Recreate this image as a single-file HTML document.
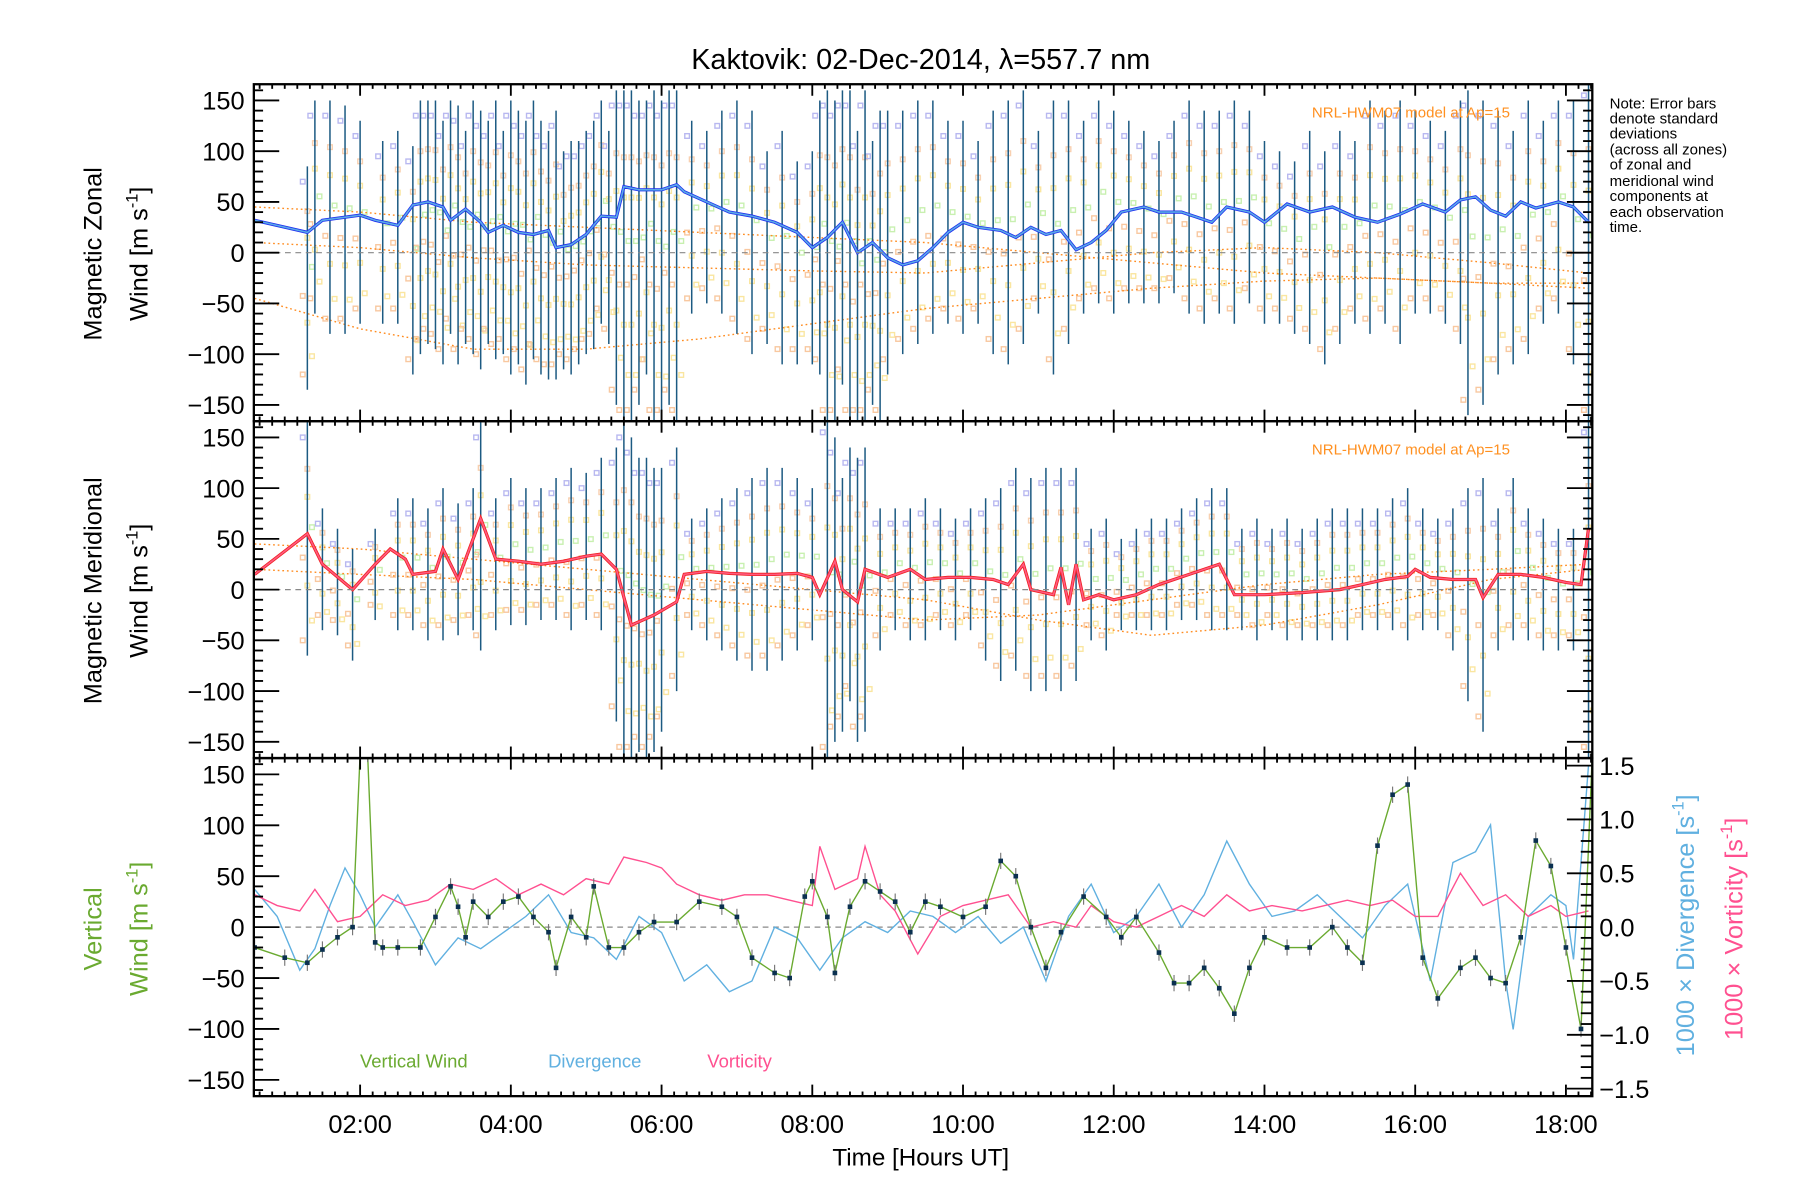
<!DOCTYPE html>
<html><head><meta charset="utf-8"><style>
html,body{margin:0;padding:0;background:#fff;}
svg{display:block;font-family:"Liberation Sans",sans-serif;}
</style></head><body>
<svg id="chart" width="1800" height="1200" viewBox="0 0 1560 1040" preserveAspectRatio="none" xmlns="http://www.w3.org/2000/svg">
<text x="798" y="60" font-size="25" text-anchor="middle">Kaktovik: 02-Dec-2014, λ=557.7 nm</text>
<g id="layer"></g>
<text x="798" y="1010" font-size="21" text-anchor="middle">Time [Hours UT]</text>
<g font-size="13">
<text x="1395" y="94">Note: Error bars</text><text x="1395" y="107">denote standard</text><text x="1395" y="120">deviations</text><text x="1395" y="134">(across all zones)</text><text x="1395" y="147">of zonal and</text><text x="1395" y="161">meridional wind</text><text x="1395" y="174">components at</text><text x="1395" y="188">each observation</text><text x="1395" y="201">time.</text>
</g>
<text transform="translate(88,220) rotate(-90)" font-size="22" text-anchor="middle">Magnetic Zonal</text>
<text transform="translate(128,220) rotate(-90)" font-size="22" text-anchor="middle">Wind [m s<tspan font-size="14" dy="-9">-1</tspan><tspan dy="9">]</tspan></text>
<text transform="translate(88,512) rotate(-90)" font-size="22" text-anchor="middle">Magnetic Meridional</text>
<text transform="translate(128,512) rotate(-90)" font-size="22" text-anchor="middle">Wind [m s<tspan font-size="14" dy="-9">-1</tspan><tspan dy="9">]</tspan></text>
<text transform="translate(88,805) rotate(-90)" font-size="22" text-anchor="middle" fill="#6aaa30">Vertical</text>
<text transform="translate(128,805) rotate(-90)" font-size="22" text-anchor="middle" fill="#6aaa30">Wind [m s<tspan font-size="14" dy="-9">-1</tspan><tspan dy="9">]</tspan></text>
<text transform="translate(1468,802) rotate(-90)" font-size="22" text-anchor="middle" fill="#60b0e0">1000 × Divergence [s<tspan font-size="14" dy="-9">-1</tspan><tspan dy="9">]</tspan></text>
<text transform="translate(1510,805) rotate(-90)" font-size="22" text-anchor="middle" fill="#ff5090">1000 × Vorticity [s<tspan font-size="14" dy="-9">-1</tspan><tspan dy="9">]</tspan></text>
<text x="312" y="925" font-size="16" fill="#6aaa30">Vertical Wind</text>
<text x="475" y="925" font-size="16" fill="#60b0e0">Divergence</text>
<text x="613" y="925" font-size="16" fill="#ff5090">Vorticity</text>
<text x="1137" y="102" font-size="13" fill="#ff9020">NRL-HWM07 model at Ap=15</text>
<text x="1137" y="394" font-size="13" fill="#ff9020">NRL-HWM07 model at Ap=15</text>
</svg>
<script>
// ---------- data ----------
const zonalT=[0.6,1.3,1.5,2.0,2.2,2.5,2.7,2.9,3.1,3.2,3.4,3.6,3.7,3.9,4.1,4.3,4.5,4.6,4.8,5.0,5.2,5.4,5.5,5.7,6.0,6.2,6.3,6.6,6.9,7.2,7.5,7.8,8.0,8.2,8.4,8.6,8.8,9.0,9.2,9.4,9.6,9.8,10.0,10.2,10.5,10.7,10.9,11.1,11.3,11.5,11.7,11.9,12.1,12.4,12.6,12.9,13.1,13.3,13.5,13.8,14.0,14.3,14.6,14.9,15.2,15.5,15.8,16.1,16.4,16.6,16.8,17.0,17.2,17.4,17.6,17.9,18.1,18.3];
const zonalV=[32,20,32,37,32,27,47,50,45,32,43,30,20,27,20,18,22,5,8,18,36,35,65,62,62,67,60,50,40,36,30,20,5,15,30,0,10,-5,-12,-8,5,20,30,25,22,15,25,18,22,3,10,22,40,45,40,40,35,30,45,40,30,48,40,45,35,30,38,48,40,52,55,42,36,50,44,50,45,30];
const meridT=[0.6,1.3,1.5,1.9,2.2,2.4,2.6,2.7,3.0,3.1,3.3,3.4,3.6,3.8,4.1,4.4,4.7,5.0,5.2,5.4,5.6,5.9,6.2,6.3,6.6,6.9,7.2,7.5,7.8,8.0,8.1,8.3,8.4,8.6,8.7,9.0,9.3,9.5,9.8,10.1,10.4,10.6,10.8,10.9,11.2,11.3,11.4,11.5,11.6,11.8,12.0,12.3,12.6,13.0,13.4,13.6,14.0,14.5,15.0,15.3,15.6,15.9,16.0,16.2,16.5,16.8,16.9,17.1,17.4,17.7,18.0,18.2,18.3];
const meridV=[15,55,25,0,25,40,30,15,18,40,10,30,70,30,28,25,28,33,35,20,-35,-25,-12,15,18,16,15,15,16,12,-5,28,0,-12,20,12,20,10,12,12,10,5,25,0,-5,22,-15,25,-10,-5,-10,-5,5,15,25,-5,-5,-3,0,5,10,13,20,12,10,10,-8,15,15,12,7,5,60];
const zonalBarT=[1.3,1.4,1.6,1.8,2.0,2.3,2.5,2.7,2.8,2.9,3.0,3.1,3.2,3.3,3.4,3.5,3.6,3.7,3.8,3.9,4.0,4.1,4.2,4.3,4.4,4.5,4.6,4.7,4.8,4.9,5.0,5.1,5.2,5.3,5.4,5.5,5.6,5.7,5.8,5.9,6.0,6.1,6.2,6.4,6.6,6.8,7.0,7.2,7.4,7.6,7.8,8.0,8.1,8.2,8.3,8.4,8.5,8.6,8.7,8.8,8.9,9.0,9.2,9.4,9.6,9.8,10.0,10.2,10.4,10.6,10.8,11.0,11.2,11.4,11.6,11.8,12.0,12.2,12.4,12.6,12.8,13.0,13.2,13.4,13.6,13.8,14.0,14.2,14.4,14.6,14.8,15.0,15.2,15.4,15.6,15.8,16.0,16.2,16.4,16.6,16.7,16.9,17.1,17.3,17.5,17.7,17.9,18.1,18.3];
const zonalBarLo=[-135,-60,-80,-80,-70,-70,-70,-120,-100,-90,-95,-110,-80,-110,-90,-100,-115,-90,-105,-100,-120,-110,-130,-105,-120,-125,-125,-115,-120,-110,-100,-95,-70,-90,-150,-170,-170,-150,-120,-170,-170,-150,-170,-60,-50,-60,-80,-100,-90,-110,-110,-110,-120,-170,-170,-130,-170,-170,-170,-150,-170,-120,-100,-90,-80,-70,-80,-70,-100,-110,-90,-60,-120,-90,-60,-50,-60,-50,-50,-50,-40,-60,-70,-60,-70,-50,-70,-70,-80,-90,-110,-90,-70,-80,-70,-90,-60,-60,-70,-90,-160,-150,-120,-110,-100,-70,-60,-110,-170];
const zonalBarHi=[85,150,150,145,130,110,120,105,150,150,150,130,150,145,120,150,140,130,150,120,150,140,130,150,130,120,140,100,110,110,120,130,150,120,160,160,160,150,150,160,150,160,160,130,120,140,150,140,100,120,90,100,150,160,150,160,160,120,160,110,140,140,140,150,150,130,130,110,140,150,160,120,150,150,130,150,140,130,120,110,130,150,140,140,150,140,110,100,90,120,100,120,110,150,140,150,140,130,120,150,160,150,140,120,150,130,150,150,170];
const meridBarT=[1.3,1.5,1.7,1.9,2.2,2.5,2.7,2.9,3.1,3.3,3.5,3.6,3.8,4.0,4.2,4.4,4.6,4.8,5.0,5.2,5.4,5.5,5.6,5.7,5.8,5.9,6.0,6.2,6.4,6.6,6.8,7.0,7.2,7.4,7.6,7.8,8.0,8.2,8.3,8.4,8.5,8.6,8.7,8.9,9.1,9.3,9.5,9.7,9.9,10.1,10.3,10.5,10.7,10.9,11.1,11.3,11.5,11.7,11.9,12.1,12.3,12.5,12.7,12.9,13.1,13.3,13.5,13.7,13.9,14.1,14.3,14.5,14.7,14.9,15.1,15.3,15.5,15.7,15.9,16.1,16.3,16.5,16.7,16.9,17.1,17.3,17.5,17.7,17.9,18.1,18.3];
const meridBarLo=[-65,-40,-45,-70,-30,-40,-40,-50,-50,-45,-40,-60,-40,-35,-35,-30,-30,-40,-30,-40,-130,-170,-170,-160,-170,-160,-140,-100,-40,-50,-60,-70,-80,-80,-70,-60,-50,-170,-150,-140,-110,-150,-140,-60,-40,-50,-50,-40,-50,-40,-70,-90,-80,-100,-100,-100,-90,-50,-60,-40,-40,-40,-40,-30,-30,-40,-40,-40,-50,-40,-50,-50,-50,-50,-50,-40,-40,-40,-50,-40,-40,-60,-110,-140,-60,-50,-50,-60,-60,-60,-170];
const meridBarHi=[165,80,60,40,60,90,90,80,100,85,100,165,90,110,100,100,110,120,115,130,140,165,150,130,130,120,120,140,70,80,90,100,110,120,120,110,100,170,150,110,140,130,140,80,80,80,90,80,70,80,90,100,120,110,120,120,120,60,70,50,60,70,70,80,90,100,100,60,70,60,70,60,70,80,80,80,80,90,100,80,70,80,100,110,80,110,80,70,60,60,170];
const modelT=[0.6,2.0,3.5,5.0,6.5,8.0,9.5,11.0,12.5,14.0,15.5,17.0,18.3];
const zonalModelA=[-45,-75,-95,-95,-85,-70,-55,-45,-35,-28,-25,-30,-35];
const zonalModelB=[10,5,-5,-12,-15,-18,-20,-10,0,5,0,-10,-20];
const zonalModelC=[45,40,30,25,20,15,10,0,-10,-20,-25,-30,-30];
const meridModelA=[45,40,30,20,10,0,-10,-30,-45,-35,-15,10,20];
const meridModelB=[20,15,10,0,-10,-20,-30,-25,-10,5,15,20,25];
const vertT=[0.6,1.0,1.3,1.5,1.7,1.9,2.0,2.1,2.2,2.3,2.5,2.8,3.0,3.2,3.3,3.4,3.5,3.7,3.9,4.1,4.3,4.5,4.6,4.8,5.0,5.1,5.3,5.5,5.7,5.9,6.2,6.5,6.8,7.0,7.2,7.5,7.7,7.9,8.0,8.2,8.3,8.5,8.7,8.9,9.1,9.3,9.5,9.7,10.0,10.3,10.5,10.7,10.9,11.1,11.3,11.6,11.9,12.1,12.3,12.6,12.8,13.0,13.2,13.4,13.6,13.8,14.0,14.3,14.6,14.9,15.1,15.3,15.5,15.7,15.9,16.1,16.3,16.6,16.8,17.0,17.2,17.4,17.6,17.8,18.0,18.2,18.35];
const vertV=[-20,-30,-35,-22,-10,0,170,170,-15,-20,-20,-20,10,40,20,-10,25,10,25,30,10,-5,-40,10,-10,40,-20,-20,-5,5,5,25,20,10,-30,-45,-50,30,45,10,-45,20,45,35,25,-5,25,20,10,20,65,50,0,-40,-5,30,10,-10,10,-25,-55,-55,-40,-60,-85,-40,-10,-20,-20,0,-20,-35,80,130,140,-30,-70,-40,-30,-50,-55,-10,85,60,-20,-100,170];
const divT=[0.6,0.9,1.2,1.4,1.6,1.8,2.0,2.2,2.5,2.7,3.0,3.3,3.6,3.9,4.2,4.5,4.8,5.1,5.4,5.7,6.0,6.3,6.6,6.9,7.2,7.5,7.8,8.1,8.4,8.7,9.0,9.3,9.6,9.9,10.2,10.5,10.8,11.1,11.4,11.7,12.0,12.3,12.6,12.9,13.2,13.5,13.8,14.1,14.4,14.7,15.0,15.3,15.6,15.9,16.2,16.5,16.8,17.0,17.2,17.3,17.5,17.8,18.0,18.1,18.3];
const divV=[0.35,0.1,-0.4,-0.2,0.2,0.55,0.3,0.0,0.3,0.05,-0.35,-0.1,-0.2,-0.05,0.1,0.3,-0.05,-0.1,-0.3,0.1,-0.05,-0.5,-0.35,-0.6,-0.5,0.0,-0.1,-0.4,-0.1,0.05,-0.05,0.15,0.1,-0.05,0.1,-0.15,0.0,-0.5,0.1,0.4,-0.05,0.1,0.4,0.0,0.3,0.8,0.4,0.1,0.15,0.3,0.1,-0.1,0.2,0.4,-0.5,0.6,0.7,0.95,-0.5,-0.95,0.1,0.3,0.2,-0.3,1.5];
const vortT=[0.6,0.9,1.2,1.4,1.7,2.0,2.3,2.6,2.9,3.2,3.5,3.8,4.1,4.4,4.7,5.0,5.3,5.5,5.8,6.0,6.2,6.5,6.8,7.1,7.4,7.7,8.0,8.1,8.3,8.6,8.7,8.9,9.1,9.4,9.7,10.0,10.3,10.6,10.9,11.2,11.5,11.7,12.0,12.3,12.6,12.9,13.2,13.5,13.8,14.1,14.5,14.8,15.1,15.4,15.7,16.0,16.3,16.6,16.9,17.2,17.5,17.8,18.0,18.3];
const vortV=[0.3,0.2,0.15,0.35,0.05,0.1,0.3,0.2,0.25,0.4,0.35,0.45,0.3,0.4,0.3,0.45,0.4,0.65,0.6,0.55,0.4,0.3,0.25,0.3,0.3,0.25,0.2,0.75,0.35,0.45,0.75,0.3,0.15,-0.25,0.1,0.2,0.25,0.3,0.0,0.05,0.0,0.2,0.05,0.0,0.1,0.2,0.1,0.3,0.15,0.2,0.15,0.2,0.25,0.2,0.25,0.1,0.1,0.5,0.2,0.3,0.1,0.2,0.1,0.15];
const xTickLabels=["02:00","04:00","06:00","08:00","10:00","12:00","14:00","16:00","18:00"];
const xTickHours=[2,4,6,8,10,12,14,16,18];
const yTickValues=[-150,-100,-50,0,50,100,150];
const rTickValues=[-1.5,-1.0,-0.5,0.0,0.5,1.0,1.5];

// ---------- axes ----------
const X0=220,X1=1380,T0=0.59,T1=18.35;
const panels=[{top:73,bot:365},{top:365,bot:657},{top:657,bot:950}];
const YR=166, RR=1.57;
const xs=t=>X0+(t-T0)/(T1-T0)*(X1-X0);
function ys(p,v){const P=panels[p];const c=(P.top+P.bot)/2;return c-v*(P.bot-P.top)/2/YR;}
function yr(v){const P=panels[2];const c=(P.top+P.bot)/2;return c-v*(P.bot-P.top)/2/RR;}
const NS="http://www.w3.org/2000/svg";
const layer=document.getElementById('layer');
function mk(tag,attrs,parent){const e=document.createElementNS(NS,tag);for(const k in attrs)e.setAttribute(k,attrs[k]);(parent||layer).appendChild(e);return e;}

const defs=mk('defs',{});
panels.forEach((P,i)=>{const c=mk('clipPath',{id:'clip'+i},defs);mk('rect',{x:X0,y:P.top,width:X1-X0,height:P.bot-P.top},c);});

function polyline(p,T,V,attrs,name,useR){
  const pts=T.map((t,i)=>xs(t).toFixed(1)+','+(useR?yr(V[i]):ys(p,V[i])).toFixed(1)).join(' ');
  const e=mk('polyline',Object.assign({points:pts,fill:'none','clip-path':'url(#clip'+p+')'},attrs));
  
  
  return e;
}

const zoneColors=['#f8c8a0','#fae6a0','#c8f0b0','#b8b8f0','#f8d0b0','#fae6a0'];
function scatter(p,T,Lo,Hi){
  const g=mk('g',{'clip-path':'url(#clip'+p+')'});
  
  
  T.forEach((t,i)=>{
    const lo=Lo[i],hi=Hi[i],x=xs(t);
    const vals=[lo+15,lo+(hi-lo)*0.3,lo+(hi-lo)*0.55,hi-15,lo+(hi-lo)*0.8,lo+(hi-lo)*0.15,lo+(hi-lo)*0.42,lo+(hi-lo)*0.68];
    vals.forEach((v,k)=>{
      const dx=(k%3-1)*4;
      mk('rect',{x:x+dx-2,y:ys(p,v)-2,width:4,height:4,fill:'none',stroke:zoneColors[k%6],'stroke-width':1.2},g);
    });
  });
}
function bars(p,T,Lo,Hi){
  const g=mk('g',{'clip-path':'url(#clip'+p+')',stroke:'#1c5a82','stroke-width':1.3});
  
  
  T.forEach((t,i)=>{
    mk('line',{x1:xs(t),x2:xs(t),y1:ys(p,Lo[i]),y2:ys(p,Hi[i])},g);
  });
}
scatter(0,zonalBarT,zonalBarLo,zonalBarHi);
scatter(1,meridBarT,meridBarLo,meridBarHi);
[zonalModelA,zonalModelB,zonalModelC].forEach(M=>polyline(0,modelT,M,{stroke:'#ff8c20','stroke-width':1.2,'stroke-dasharray':'1.5 2.5'},'model-curve-zonal'));
[meridModelA,meridModelB].forEach(M=>polyline(1,modelT,M,{stroke:'#ff8c20','stroke-width':1.2,'stroke-dasharray':'1.5 2.5'},'model-curve-meridional'));
bars(0,zonalBarT,zonalBarLo,zonalBarHi);
bars(1,meridBarT,meridBarLo,meridBarHi);
polyline(0,zonalT,zonalV,{stroke:'#1f2ff0','stroke-width':2.8},'zonal-wind-line');
polyline(0,zonalT,zonalV,{stroke:'#5aaae6','stroke-width':1.4},'zonal-wind-line-overlay');
polyline(1,meridT,meridV,{stroke:'#f02020','stroke-width':2.8},'meridional-wind-line');
polyline(1,meridT,meridV,{stroke:'#ff5a80','stroke-width':1.4},'meridional-wind-line-overlay');

panels.forEach((P,i)=>{const e=mk('line',{x1:X0,x2:X1,y1:ys(i,0),y2:ys(i,0),stroke:'#888','stroke-width':1,'stroke-dasharray':'5 4'});

});

polyline(2,divT,divV,{stroke:'#60b0e0','stroke-width':1.2},'divergence-line',true);
polyline(2,vortT,vortV,{stroke:'#ff5090','stroke-width':1.2},'vorticity-line',true);
polyline(2,vertT,vertV,{stroke:'#6aaa30','stroke-width':1.2},'vertical-wind-line');
const vg=mk('g',{'clip-path':'url(#clip2)'});


vertT.forEach((t,i)=>{
  mk('line',{x1:xs(t),x2:xs(t),y1:ys(2,vertV[i]-8),y2:ys(2,vertV[i]+8),stroke:'#777','stroke-width':1},vg);
  mk('rect',{x:xs(t)-2,y:ys(2,vertV[i])-2,width:4,height:4,fill:'#0a3050'},vg);
});

panels.forEach((P,i)=>{
  const f=mk('rect',{x:X0,y:P.top,width:X1-X0,height:P.bot-P.top,fill:'none',stroke:'#000','stroke-width':2});
  
  
  const g=mk('g',{stroke:'#000','stroke-width':1.6});
  
  
  for(let m=Math.ceil(T0*6);m<=T1*6;m++){const t=m/6,x=xs(t),maj=(m%12===0);const L=maj?10:4;
    mk('line',{x1:x,x2:x,y1:P.bot,y2:P.bot-L},g);mk('line',{x1:x,x2:x,y1:P.top,y2:P.top+L},g);}
  for(let v=-160;v<=160;v+=10){const y=ys(i,v),maj=(v%50===0);const L=maj?22:8;
    mk('line',{x1:X0,x2:X0+L,y1:y,y2:y},g);
    if(i<2)mk('line',{x1:X1,x2:X1-L,y1:y,y2:y},g);}
  yTickValues.forEach(v=>{const t=mk('text',{x:X0-8,y:ys(i,v)+8,'font-size':22,'text-anchor':'end'});t.textContent=(v<0?'−':'')+Math.abs(v);
    
    });
});
const rg=mk('g',{stroke:'#000','stroke-width':1.6});
for(let k=-15;k<=15;k++){const v=k/10,y=yr(v),L=(k%5===0)?22:10;mk('line',{x1:X1,x2:X1-L,y1:y,y2:y},rg);}
rTickValues.forEach(v=>{const t=mk('text',{x:X1+6,y:yr(v)+8,'font-size':22});t.textContent=(v<0?'−':'')+Math.abs(v).toFixed(1);
  
  });
xTickHours.forEach((h,i)=>{const t=mk('text',{x:xs(h),y:982,'font-size':22,'text-anchor':'middle'});t.textContent=xTickLabels[i];
  
  });
</script>
</body></html>
